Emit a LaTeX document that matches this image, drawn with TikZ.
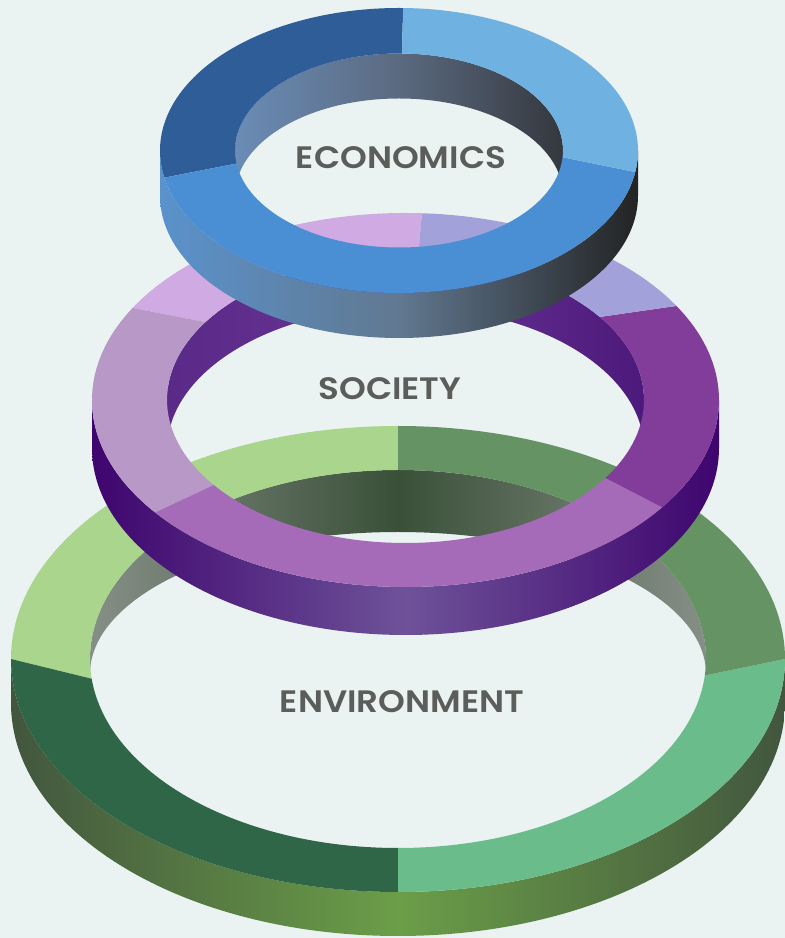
\documentclass[tikz,border=0pt]{standalone}
\usepackage{fontspec}
\newfontfamily\ringfont{Poppins SemiBold}
\usetikzlibrary{calc}
\definecolor{backgr}{HTML}{EAF3F2}
\definecolor{labelgray}{HTML}{5A5D5A}
\definecolor{envtl}{HTML}{A9D58C}
\definecolor{envtr}{HTML}{669364}
\definecolor{envbr}{HTML}{6ABD8B}
\definecolor{envbl}{HTML}{2E6647}
\definecolor{envdark}{HTML}{42563E}
\definecolor{envmid}{HTML}{6B9E48}
\definecolor{envgrey}{HTML}{868F87}
\definecolor{envdeep}{HTML}{3A5038}
\definecolor{soctl}{HTML}{D0AAE3}
\definecolor{soctr}{HTML}{A3A1D9}
\definecolor{socr}{HTML}{823C9A}
\definecolor{socb}{HTML}{A56BB8}
\definecolor{socl}{HTML}{B798C6}
\definecolor{socdark}{HTML}{3E056E}
\definecolor{socmid}{HTML}{6E5299}
\definecolor{socwl}{HTML}{5A2A88}
\definecolor{socwr}{HTML}{4C1A7C}
\definecolor{socwm}{HTML}{6A3494}
\definecolor{econtl}{HTML}{2F5D97}
\definecolor{econtr}{HTML}{6FB2E2}
\definecolor{econb}{HTML}{4A8FD3}
\definecolor{econsl}{HTML}{5A92CC}
\definecolor{econsm}{HTML}{617890}
\definecolor{econsr}{HTML}{232323}
\definecolor{econwl}{HTML}{6A8CB6}
\definecolor{econwm}{HTML}{5B6A80}
\definecolor{econwr}{HTML}{34383E}
\tikzset{
  ringlabel/.style={font=\ringfont\fontsize{31}{36}\selectfont, text=labelgray, inner sep=0pt, xscale=1.1},
  envside/.style={left color=envdark, right color=envdark, middle color=envmid},
  envwall/.style={left color=envgrey, right color=envgrey, middle color=envdeep},
  socside/.style={left color=socdark, right color=socdark, middle color=socmid},
  socwall/.style={left color=socwl, right color=socwr, middle color=socwm},
  econside/.style={left color=econsl, right color=econsr, middle color=econsm},
  econwall/.style={left color=econwl, right color=econwr, middle color=econwm}
}
\begin{document}
\begin{tikzpicture}[x=1pt,y=1pt]
  \useasboundingbox (0,0) rectangle (785,938);
  \fill[backgr] (0,0) rectangle (785,938);
  \coordinate (envc) at (398,279);
  \coordinate (socc) at (405.5,538);
  \coordinate (econc) at (399,787.5);

  \shade[envside] ($(envc)+(180:387 and 233)$) arc[start angle=180,end angle=360,x radius=387,y radius=233] -- ++(0,-44) arc[start angle=360,end angle=180,x radius=387,y radius=233] -- cycle;
  \shade[envwall] ($(envc)+(0:308 and 189)$) arc[start angle=0,end angle=180,x radius=308,y radius=189] -- ++(0,-15) arc[start angle=180,end angle=0,x radius=308,y radius=142] -- cycle;
  \fill[envtl] ($(envc)+(90:387 and 233)$) arc[start angle=90,end angle=180,x radius=387,y radius=233] -- ($(envc)+(186:308 and 189)$) arc[start angle=186,end angle=90,x radius=308,y radius=189] -- cycle;
  \fill[envbl] ($(envc)+(180:387 and 233)$) arc[start angle=180,end angle=270,x radius=387,y radius=233] -- ($(envc)+(270:308 and 189)$) arc[start angle=270,end angle=186,x radius=308,y radius=189] -- cycle;
  \fill[envbr] ($(envc)+(270:387 and 233)$) arc[start angle=270,end angle=360,x radius=387,y radius=233] -- ($(envc)+(355:308 and 189)$) arc[start angle=355,end angle=270,x radius=308,y radius=189] -- cycle;
  \fill[envtr] ($(envc)+(0:387 and 233)$) arc[start angle=0,end angle=90,x radius=387,y radius=233] -- ($(envc)+(90:308 and 189)$) arc[start angle=90,end angle=-5,x radius=308,y radius=189] -- cycle;
  \node[ringlabel] (env) at (402,236) {ENVIRONMENT};

  \shade[socside] ($(socc)+(180:313.5 and 187)$) arc[start angle=180,end angle=360,x radius=313.5,y radius=187] -- ++(0,-48) arc[start angle=360,end angle=180,x radius=313.5,y radius=187] -- cycle;
  \shade[socwall] ($(socc)+(0:238.5 and 143)$) arc[start angle=0,end angle=180,x radius=238.5,y radius=143] -- ++(0,-50) arc[start angle=180,end angle=0,x radius=238.5,y radius=143] -- cycle;
  \fill[soctl] ($(socc)+(87:313.5 and 187)$) arc[start angle=87,end angle=150.5,x radius=313.5,y radius=187] -- ($(socc)+(147:238.5 and 143)$) arc[start angle=147,end angle=87,x radius=238.5,y radius=143] -- cycle;
  \fill[socl] ($(socc)+(150.5:313.5 and 187)$) arc[start angle=150.5,end angle=217,x radius=313.5,y radius=187] -- ($(socc)+(216.5:238.5 and 143)$) arc[start angle=216.5,end angle=147,x radius=238.5,y radius=143] -- cycle;
  \fill[socb] ($(socc)+(217:313.5 and 187)$) arc[start angle=217,end angle=325,x radius=313.5,y radius=187] -- ($(socc)+(327:238.5 and 143)$) arc[start angle=327,end angle=216.5,x radius=238.5,y radius=143] -- cycle;
  \fill[socr] ($(socc)+(325:313.5 and 187)$) arc[start angle=325,end angle=390.2,x radius=313.5,y radius=187] -- ($(socc)+(395.5:238.5 and 143)$) arc[start angle=395.5,end angle=327,x radius=238.5,y radius=143] -- cycle;
  \fill[soctr] ($(socc)+(30.2:313.5 and 187)$) arc[start angle=30.2,end angle=87,x radius=313.5,y radius=187] -- ($(socc)+(87:238.5 and 143)$) arc[start angle=87,end angle=35.5,x radius=238.5,y radius=143] -- cycle;
  \node[ringlabel] (soc) at (390,549) {SOCIETY};

  \shade[econside] ($(econc)+(180:239 and 142.5)$) arc[start angle=180,end angle=360,x radius=239,y radius=142.5] -- ++(0,-45) arc[start angle=360,end angle=180,x radius=239,y radius=142.5] -- cycle;
  \shade[econwall] ($(econc)+(0:164 and 97)$) arc[start angle=0,end angle=180,x radius=164,y radius=97] -- ++(0,-45) arc[start angle=180,end angle=0,x radius=164,y radius=97] -- cycle;
  \fill[econtl] ($(econc)+(89:239 and 142.5)$) arc[start angle=89,end angle=191,x radius=239,y radius=142.5] -- ($(econc)+(187.7:164 and 97)$) arc[start angle=187.7,end angle=89,x radius=164,y radius=97] -- cycle;
  \fill[econb] ($(econc)+(191:239 and 142.5)$) arc[start angle=191,end angle=351.3,x radius=239,y radius=142.5] -- ($(econc)+(356:164 and 97)$) arc[start angle=356,end angle=187.7,x radius=164,y radius=97] -- cycle;
  \fill[econtr] ($(econc)+(-8.7:239 and 142.5)$) arc[start angle=-8.7,end angle=89,x radius=239,y radius=142.5] -- ($(econc)+(89:164 and 97)$) arc[start angle=89,end angle=-4,x radius=164,y radius=97] -- cycle;
  \node[ringlabel] (econ) at (401,780.5) {ECONOMICS};
\end{tikzpicture}
\end{document}
